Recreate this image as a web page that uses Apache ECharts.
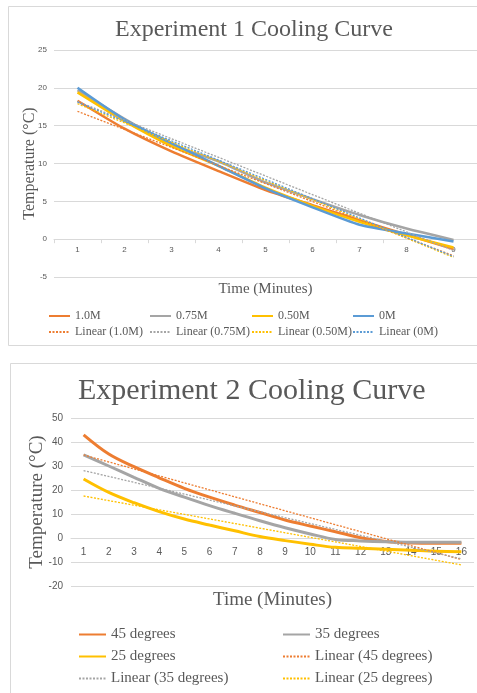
<!DOCTYPE html>
<html>
<head>
<meta charset="utf-8">
<script src="https://cdn.jsdelivr.net/npm/echarts@6/dist/echarts.min.js"></script>
<style>
html, body { margin: 0; padding: 0; background: #fff; }
#chart { width: 477px; height: 693px; }
</style>
</head>
<body>
<div id="chart"></div>
<script>
// Experiment 1 (minutes 1..9)
const minutes1 = ['1', '2', '3', '4', '5', '6', '7', '8', '9'];
const temp10M = [18.3, 14.6, 11.6, 9.0, 6.5, 4.5, 2.5, 0.6, -1.3];
const temp075M = [19.7, 15.9, 12.5, 10.3, 7.5, 5.3, 3.2, 1.4, -0.1];
const temp050M = [19.4, 15.6, 12.3, 9.7, 6.8, 4.4, 2.3, 0.5, -1.1];
const temp0M = [20.0, 15.8, 12.7, 9.7, 6.7, 4.2, 1.9, 0.75, -0.3];
// trend lines: value at first and last minute
const trend10M = [16.9, -2.2];
const trend075M = [18.2, -1.5];
const trend050M = [17.9, -2.4];
const trend0M = [18.1, -2.3];

// Experiment 2 (minutes 1..16)
const minutes2 = ['1', '2', '3', '4', '5', '6', '7', '8', '9', '10', '11', '12', '13', '14', '15', '16'];
const temp45 = [43.0, 35.0, 29.7, 25.1, 20.7, 17.0, 13.7, 10.6, 7.5, 5.0, 2.6, 0.1, -1.5, -2.1, -2.2, -2.2];
const temp35 = [34.6, 30.0, 25.3, 20.7, 17.0, 13.5, 10.3, 7.2, 4.3, 1.7, -0.6, -1.2, -1.6, -1.8, -1.8, -1.8];
const temp25 = [24.6, 19.0, 14.7, 11.0, 7.9, 5.4, 3.0, 0.6, -1.1, -2.6, -3.9, -4.3, -4.7, -5.1, -5.5, -5.7];
const trend45 = [34.6, -9.0];
const trend35 = [28.1, -8.7];
const trend25 = [17.5, -11.2];

const ORANGE = '#ED7D31';
const GRAY = '#A5A5A5';
const GOLD = '#FFC000';
const BLUE = '#5B9BD5';
const TEXT = '#595959';
const SERIF = 'Liberation Serif';
const SANS = 'Liberation Sans';

function solid(name, data, color, idx, width) {
  return {
    name: name, type: 'line', data: data,
    xAxisIndex: idx, yAxisIndex: idx,
    symbol: 'none', smooth: idx === 0 ? 0.2 : 0.35,
    lineStyle: { color: color, width: width },
    itemStyle: { color: color },
  };
}

function trend(name, cats, ends, color, idx) {
  return {
    name: name, type: 'line',
    data: [[cats[0], ends[0]], [cats[cats.length - 1], ends[1]]],
    xAxisIndex: idx, yAxisIndex: idx,
    symbol: 'none',
    lineStyle: { color: color, width: 1.3, type: [2, 1.5] },
    itemStyle: { color: color },
  };
}

function legendCol(left, top, names, w, h, gap, size) {
  return {
    orient: 'vertical', left: left, top: top, padding: 0,
    itemWidth: w, itemHeight: h, itemGap: gap,
    itemStyle: { opacity: 0 },
    data: names,
    textStyle: { fontFamily: SERIF, fontSize: size, color: TEXT },
  };
}

const chart = echarts.init(document.getElementById('chart'));
chart.setOption({
  animation: false,
  backgroundColor: '#fff',
  graphic: [
    { type: 'rect', shape: { x: 8.5, y: 6.5, width: 480, height: 339 },
      style: { fill: 'none', stroke: '#D9D9D9', lineWidth: 1 }, silent: true },
    { type: 'rect', shape: { x: 10.5, y: 363.5, width: 480, height: 340 },
      style: { fill: 'none', stroke: '#D9D9D9', lineWidth: 1 }, silent: true },
  ],
  title: [
    { text: 'Experiment 1 Cooling Curve', left: 110, top: 13,
      textStyle: { fontFamily: SERIF, fontSize: 24, fontWeight: 'normal', color: TEXT } },
    { text: 'Experiment 2 Cooling Curve', left: 73, top: 371,
      textStyle: { fontFamily: SERIF, fontSize: 30, fontWeight: 'normal', color: TEXT } },
  ],
  legend: [
    legendCol(48, 310, ['1.0M', 'Linear (1.0M)'], 21, 14, 4, 12),
    legendCol(149, 310, ['0.75M', 'Linear (0.75M)'], 21, 14, 4, 12),
    legendCol(251, 310, ['0.50M', 'Linear (0.50M)'], 21, 14, 4, 12),
    legendCol(352, 310, ['0M', 'Linear (0M)'], 21, 14, 4, 12),
    legendCol(78, 627, ['45 degrees', '25 degrees', 'Linear (35 degrees)'], 27, 16, 7, 15),
    legendCol(282, 627, ['35 degrees', 'Linear (45 degrees)', 'Linear (25 degrees)'], 27, 16, 7, 15),
  ],
  grid: [
    { left: 54, right: -3, top: 50, bottom: 416 },
    { left: 71, right: 3, top: 418, bottom: 107 },
  ],
  xAxis: [
    {
      gridIndex: 0, type: 'category', data: minutes1, boundaryGap: true,
      name: 'Time (Minutes)', nameLocation: 'middle', nameGap: 5,
      nameTextStyle: { fontFamily: SERIF, fontSize: 15, color: TEXT },
      axisLine: { onZero: true, lineStyle: { color: '#D9D9D9' } },
      axisTick: { show: true, length: 4, lineStyle: { color: '#D9D9D9' } },
      axisLabel: { fontFamily: SANS, fontSize: 8, color: TEXT, margin: -31 },
    },
    {
      gridIndex: 1, type: 'category', data: minutes2, boundaryGap: true,
      name: 'Time (Minutes)', nameLocation: 'middle', nameGap: 5,
      nameTextStyle: { fontFamily: SERIF, fontSize: 19, color: TEXT },
      axisLine: { onZero: true, lineStyle: { color: '#D9D9D9' } },
      axisTick: { show: false },
      axisLabel: { fontFamily: SANS, fontSize: 10, color: TEXT, margin: -39 },
    },
  ],
  yAxis: [
    {
      gridIndex: 0, type: 'value', min: -5, max: 25, interval: 5,
      name: 'Temperature (°C)', nameLocation: 'middle', nameGap: 16,
      nameMoveOverlap: false,
      nameTextStyle: { fontFamily: SERIF, fontSize: 16, color: TEXT },
      axisLine: { show: false }, axisTick: { show: false },
      axisLabel: { fontFamily: SANS, fontSize: 8, color: TEXT, margin: 7 },
      splitLine: { lineStyle: { color: '#D9D9D9' } },
    },
    {
      gridIndex: 1, type: 'value', min: -20, max: 50, interval: 10,
      name: 'Temperature (°C)', nameLocation: 'middle', nameGap: 24,
      nameMoveOverlap: false,
      nameTextStyle: { fontFamily: SERIF, fontSize: 19, color: TEXT },
      axisLine: { show: false }, axisTick: { show: false },
      axisLabel: { fontFamily: SANS, fontSize: 10, color: TEXT, margin: 8 },
      splitLine: { lineStyle: { color: '#D9D9D9' } },
    },
  ],
  series: [
    solid('1.0M', temp10M, ORANGE, 0, 2.5),
    solid('0.75M', temp075M, GRAY, 0, 2.5),
    solid('0.50M', temp050M, GOLD, 0, 2.5),
    solid('0M', temp0M, BLUE, 0, 2.5),
    trend('Linear (1.0M)', minutes1, trend10M, ORANGE, 0),
    trend('Linear (0.75M)', minutes1, trend075M, GRAY, 0),
    trend('Linear (0.50M)', minutes1, trend050M, GOLD, 0),
    trend('Linear (0M)', minutes1, trend0M, BLUE, 0),
    solid('45 degrees', temp45, ORANGE, 1, 3),
    solid('35 degrees', temp35, GRAY, 1, 3),
    solid('25 degrees', temp25, GOLD, 1, 3),
    trend('Linear (45 degrees)', minutes2, trend45, ORANGE, 1),
    trend('Linear (35 degrees)', minutes2, trend35, GRAY, 1),
    trend('Linear (25 degrees)', minutes2, trend25, GOLD, 1),
  ],
});
</script>
</body>
</html>
